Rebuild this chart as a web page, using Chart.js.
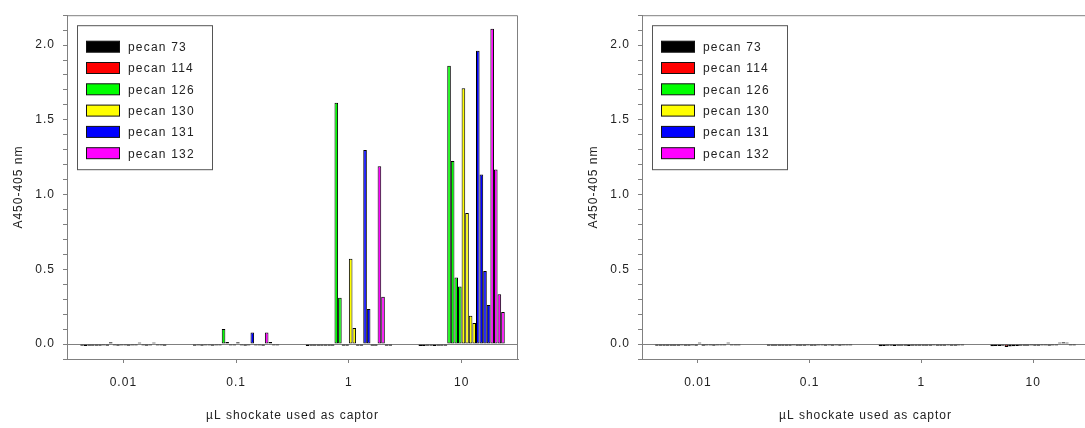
<!DOCTYPE html>
<html lang="en">
<head>
  <meta charset="UTF-8" />
  <title>Pecan captor ELISA</title>
  <script src="https://cdn.jsdelivr.net/npm/chart.js"></script>
  <style>
    html, body { margin: 0; padding: 0; background: #fff; }
    #wrap { position: relative; width: 1085px; height: 428px; overflow: hidden; }
    #leftChart { position: absolute; left: 0; top: 0; }
    #rightChart { position: absolute; left: 575px; top: 0; }
  </style>
</head>
<body>
  <div id="wrap">
    <canvas id="leftChart" width="560" height="428"></canvas>
    <canvas id="rightChart" width="520" height="428"></canvas>
  </div>
  <script>
    // x categories (uL shockate) and the six sera
    const doses = ["0.01", "0.1", "1", "10"];
    const seriesNames = ["pecan 73", "pecan 114", "pecan 126", "pecan 130", "pecan 131", "pecan 132"];
    const seriesColors = ["#000000", "#ff0000", "#00ff00", "#ffff00", "#0000ff", "#ff00ff"];
    const yLabelTicks = [0, 0.5, 1.0, 1.5, 2.0];

    // left panel: one row per dose, four wells per row
    const leftPecan73  = [[-0.012, -0.013, -0.012, -0.012], [-0.011, -0.010, -0.011, -0.010], [-0.013, -0.012, -0.012, -0.011], [-0.013, -0.013, -0.012, -0.012]];
    const leftPecan114 = [[-0.012, -0.011, -0.010, -0.011], [-0.010, -0.011, -0.010, -0.010], [-0.012, -0.012, -0.011, -0.011], [-0.013, -0.012, -0.012, -0.011]];
    const leftPecan126 = [[0.012, -0.010, -0.011, -0.010], [0.100, 0.013, -0.010, -0.010], [1.615, 0.310, -0.012, -0.011], [1.861, 1.224, 0.446, 0.385]];
    const leftPecan130 = [[-0.010, -0.011, -0.010, -0.010], [0.012, -0.010, -0.011, -0.010], [0.571, 0.108, -0.012, -0.011], [1.711, 0.876, 0.189, 0.141]];
    const leftPecan131 = [[0.010, -0.010, -0.011, -0.010], [0.078, -0.010, -0.010, -0.011], [1.298, 0.235, -0.012, -0.011], [1.963, 1.135, 0.489, 0.261]];
    const leftPecan132 = [[0.010, -0.010, -0.010, -0.011], [0.078, 0.013, -0.010, -0.010], [1.190, 0.317, -0.012, -0.011], [2.109, 1.168, 0.333, 0.215]];

    // right panel: everything stays on the baseline
    const rightPecan73  = [[-0.012, -0.011, -0.011, -0.011], [-0.012, -0.011, -0.011, -0.011], [-0.014, -0.013, -0.012, -0.012], [-0.014, -0.013, -0.013, -0.012]];
    const rightPecan114 = [[-0.011, -0.011, -0.011, -0.010], [-0.011, -0.011, -0.011, -0.010], [-0.013, -0.012, -0.012, -0.011], [-0.019, -0.017, -0.015, -0.013]];
    const rightPecan126 = [[-0.011, -0.011, -0.010, -0.011], [-0.011, -0.011, -0.011, -0.010], [-0.013, -0.012, -0.011, -0.011], [-0.012, -0.011, -0.011, -0.010]];
    const rightPecan130 = [[0.010, -0.011, -0.010, -0.010], [-0.011, -0.011, -0.010, -0.010], [-0.012, -0.011, -0.011, -0.010], [-0.011, -0.011, -0.010, -0.010]];
    const rightPecan131 = [[-0.011, -0.010, -0.010, -0.010], [-0.011, -0.010, -0.011, -0.010], [-0.012, -0.011, -0.011, -0.010], [-0.011, -0.010, -0.010, 0.010]];
    const rightPecan132 = [[0.010, -0.010, -0.010, -0.010], [-0.011, -0.010, -0.010, -0.010], [-0.012, -0.011, -0.010, -0.010], [0.012, 0.010, -0.010, -0.010]];

    const leftSeries = [leftPecan73, leftPecan114, leftPecan126, leftPecan130, leftPecan131, leftPecan132];
    const rightSeries = [rightPecan73, rightPecan114, rightPecan126, rightPecan130, rightPecan131, rightPecan132];

    const AXIS = "#808080";
    Chart.defaults.font.family = "'Liberation Sans', Arial, sans-serif";
    Chart.defaults.font.size = 12;
    Chart.defaults.color = "#222";

    // 24 datasets: 6 sera x 4 wells, bars side by side in each dose group
    function buildDatasets(series) {
      const sets = [];
      series.forEach((rows, s) => {
        for (let w = 0; w < 4; w++) {
          sets.push({
            label: seriesNames[s],
            data: rows.map(r => r[w]),
            backgroundColor: seriesColors[s],
            borderColor: "#000",
            borderWidth: 1,
            borderSkipped: false,
            barPercentage: 1.0,
            categoryPercentage: 0.765
          });
        }
      });
      return sets;
    }

    // frame round the plot + the boxed legend in its upper left corner
    const framePlugin = {
      id: "frame",
      beforeDraw(chart) {
        chart.ctx.letterSpacing = "1px";
      },
      afterDraw(chart) {
        const { ctx, chartArea: a } = chart;
        ctx.save();
        ctx.strokeStyle = AXIS;
        ctx.lineWidth = 1;
        ctx.beginPath();
        ctx.moveTo(a.left + 0.5, a.top + 0.5);
        ctx.lineTo(a.right - 0.5, a.top + 0.5);
        ctx.lineTo(a.right - 0.5, a.bottom);
        ctx.stroke();

        const bx = a.left + 10, by = a.top + 10, bw = 135, bh = 144;
        ctx.fillStyle = "#fff";
        ctx.fillRect(bx, by, bw, bh);
        ctx.strokeStyle = "#555";
        ctx.strokeRect(bx + 0.5, by + 0.5, bw, bh);
        ctx.font = "12px 'Liberation Sans', Arial, sans-serif";
        ctx.letterSpacing = "1.2px";
        ctx.textBaseline = "middle";
        seriesNames.forEach((name, i) => {
          const cy = by + 21.5 + i * 21.3;
          ctx.fillStyle = seriesColors[i];
          ctx.fillRect(bx + 9, cy - 5.5, 34, 11);
          ctx.strokeStyle = "#111";
          ctx.strokeRect(bx + 9.5, cy - 5.5, 33, 11);
          ctx.fillStyle = "#222";
          ctx.fillText(name, bx + 51, cy + 1);
        });
        ctx.restore();
      }
    };

    function makeChart(id, series, rightPad) {
      return new Chart(document.getElementById(id), {
        type: "bar",
        data: { labels: doses, datasets: buildDatasets(series) },
        options: {
          responsive: false,
          animation: false,
          layout: { padding: { top: 5, right: rightPad, left: 0, bottom: 0 } },
          plugins: { legend: { display: false }, tooltip: { enabled: false } },
          scales: {
            x: {
              offset: true,
              grid: { offset: false, drawOnChartArea: false, tickLength: 4, tickColor: AXIS },
              border: { color: AXIS },
              ticks: { padding: 12, maxRotation: 0 },
              title: { display: true, text: "\u00b5L shockate used as captor", padding: { top: 0, bottom: 5 } },
              afterFit: s => { s.height = 69; }
            },
            y: {
              min: -0.1,
              max: 2.2,
              grid: {
                color: c => (c.tick && Math.abs(c.tick.value) < 1e-9 ? AXIS : "transparent"),
                tickColor: AXIS,
                tickLength: 4
              },
              border: { color: AXIS },
              ticks: {
                stepSize: 0.1,
                maxTicksLimit: 40,
                autoSkip: false,
                padding: 8,
                callback: v => (yLabelTicks.some(t => Math.abs(t - v) < 1e-6) ? v.toFixed(1) : "")
              },
              title: { display: true, text: "A450-405 nm", padding: { top: 11, bottom: 0 } },
              afterFit: s => { s.width = 67; }
            }
          }
        },
        plugins: [framePlugin]
      });
    }

    makeChart("leftChart", leftSeries, 42);
    makeChart("rightChart", rightSeries, 6);
  </script>
</body>
</html>
